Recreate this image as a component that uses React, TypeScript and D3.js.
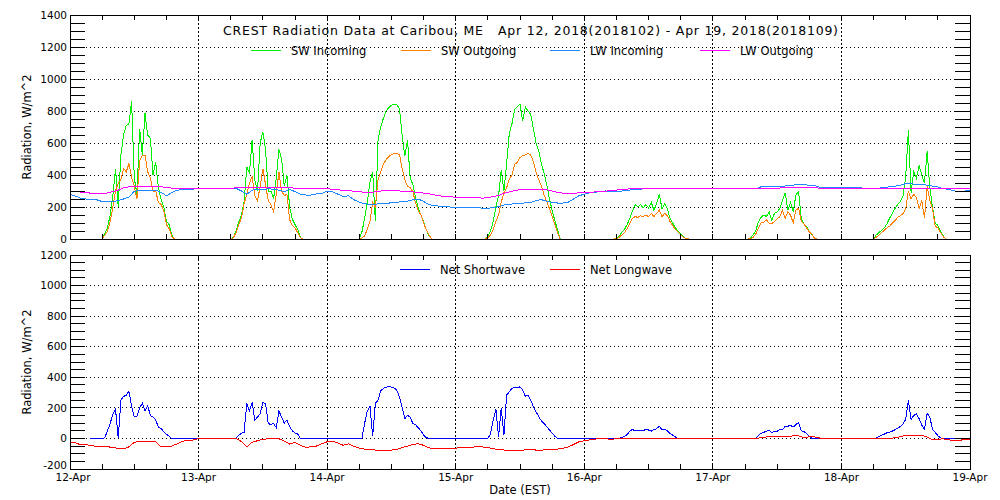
import * as d3 from "d3";

const TITLE =
  "CREST Radiation Data at Caribou, ME   Apr 12, 2018(2018102) - Apr 19, 2018(2018109)";
const DAY_LABELS = ["12-Apr", "13-Apr", "14-Apr", "15-Apr", "16-Apr", "17-Apr", "18-Apr", "19-Apr"];
const TOP_Y_TICKS = [0, 200, 400, 600, 800, 1000, 1200, 1400];
const BOTTOM_Y_TICKS = [-200, 0, 200, 400, 600, 800, 1000, 1200];
const MINOR_Y_STEP = 50;
const MINOR_X_STEP = 6; // hours

// shortwave: one row per day, half-hourly from 05:30 to 19:30 (zero at night)
const DAY_START_HOUR = 5.5;
const DAY_STEP_HOUR = 0.5;

const swIncoming = [
  [0, 0, 35, 70, 150, 270, 440, 200, 525, 650, 710, 720, 860, 380, 280, 690, 525, 785, 650, 630, 400, 480, 320, 250, 200, 110, 90, 25, 0],
  [0, 0, 10, 50, 105, 150, 233, 450, 410, 620, 370, 300, 600, 670, 560, 300, 300, 250, 380, 560, 500, 330, 400, 200, 125, 90, 60, 10, 0],
  [0, 0, 45, 130, 230, 358, 420, 110, 620, 700, 754, 800, 820, 836, 840, 838, 815, 650, 520, 620, 380, 340, 260, 195, 150, 108, 60, 20, 0],
  [0, 20, 50, 108, 200, 270, 430, 300, 470, 660, 720, 810, 825, 842, 740, 825, 800, 780, 690, 600, 550, 470, 410, 337, 250, 180, 115, 60, 0],
  [0, 3, 20, 40, 60, 90, 130, 175, 215, 200, 215, 195, 215, 195, 230, 180, 220, 280, 190, 220, 190, 130, 100, 70, 50, 30, 15, 2, 0],
  [0, 0, 0, 4, 25, 50, 108, 135, 150, 140, 170, 118, 160, 170, 190, 240, 290, 180, 230, 170, 275, 296, 130, 95, 78, 45, 25, 5, 0],
  [0, 0, 25, 40, 55, 70, 95, 130, 160, 190, 215, 235, 270, 390, 680, 290, 420, 380, 460, 400, 350, 550, 320, 200, 100, 85, 50, 20, 0],
];

const swOutgoing = [
  [0, 0, 25, 50, 108, 200, 300, 350, 370, 440, 420, 470, 385, 330, 250, 490, 520, 525, 420, 380, 300, 300, 230, 215, 180, 90, 65, 15, 0],
  [0, 0, 8, 40, 90, 130, 220, 280, 350, 390, 270, 240, 330, 440, 340, 240, 215, 170, 280, 420, 300, 270, 280, 120, 85, 70, 40, 8, 0],
  [0, 0, 5, 20, 60, 110, 230, 200, 370, 420, 470, 495, 515, 528, 535, 535, 528, 440, 370, 330, 320, 296, 225, 180, 150, 100, 60, 25, 0],
  [0, 8, 25, 60, 110, 150, 230, 290, 320, 375, 400, 465, 480, 510, 520, 525, 535, 525, 483, 420, 370, 330, 275, 233, 190, 140, 90, 40, 0],
  [0, 2, 10, 25, 40, 65, 100, 130, 140, 135, 145, 140, 150, 140, 160, 140, 160, 180, 140, 160, 145, 110, 85, 60, 45, 25, 10, 2, 0],
  [0, 0, 0, 2, 10, 30, 70, 100, 105, 120, 100, 95, 110, 125, 140, 180, 130, 170, 150, 100, 180, 192, 110, 95, 70, 45, 30, 4, 0],
  [0, 0, 10, 25, 40, 55, 70, 80, 100, 115, 135, 145, 160, 190, 300, 250, 280, 260, 190, 240, 130, 330, 240, 190, 80, 70, 40, 15, 0],
];

const NET_SW_FIRST_HOUR = 3.7;
const netShortwave = [
  [0, 0, 5, 50, 98, 160, 190, 0, 250, 275, 283, 310, 210, 140, 145, 200, 230, 180, 215, 150, 140, 120, 75, 65, 45, 28, 15, 0, 0],
  [0, 0, 0, 0, 22, 33, 40, 229, 180, 235, 120, 140, 163, 233, 229, 98, 90, 98, 70, 180, 140, 100, 120, 78, 50, 35, 30, 0, 0],
  [0, 0, 0, 100, 180, 211, 15, 229, 250, 312, 327, 336, 338, 336, 330, 316, 270, 200, 130, 150, 140, 98, 90, 70, 50, 22, 5, 0, 0],
  [0, 0, 30, 120, 190, 10, 200, 20, 283, 305, 327, 333, 330, 338, 316, 275, 285, 250, 207, 174, 142, 115, 98, 76, 55, 35, 15, 0, 0],
  [0, 0, 0, 5, 15, 25, 48, 60, 48, 55, 50, 50, 60, 55, 48, 57, 64, 80, 58, 60, 50, 33, 22, 10, 0, 0, 0, 0, 0],
  [0, 0, 0, 0, 0, 0, 20, 33, 40, 48, 52, 38, 48, 45, 62, 60, 78, 80, 85, 75, 90, 105, 50, 44, 33, 15, 0, 0, 0],
  [0, 0, 2, 12, 22, 28, 37, 41, 48, 57, 68, 78, 94, 125, 250, 125, 150, 160, 130, 87, 60, 165, 140, 60, 40, 18, 3, 0, 0],
];

// longwave: hourly, Apr 12 00:00 .. Apr 19 00:00
const lwIncoming = [
  279, 268, 255, 250, 250, 245, 234, 233, 234, 240, 250, 262, 298, 306, 306, 300, 305, 292, 270, 290, 305, 308, 310, 312,
  317, 317, 317, 317, 317, 317, 317, 317, 300, 280, 305, 310, 306, 315, 310, 305, 296, 310, 296, 280, 275, 275, 282, 285,
  300, 296, 280, 265, 270, 245, 230, 220, 217, 218, 220, 223, 226, 230, 233, 237, 245, 250, 235, 215, 208, 205, 203, 200,
  197, 196, 196, 196, 195, 193, 192, 196, 202, 212, 217, 220, 222, 226, 229, 240, 246, 235, 228, 225, 225, 230, 250, 270,
  280, 288, 292, 298, 300, 298, 296, 300, 305, 307, 310, 313, 314, 314, 314, 314, 314, 314, 314, 314, 314, 314, 314, 314,
  314, 314, 314, 314, 314, 314, 314, 314, 314, 326, 326, 327, 327, 327, 335, 337, 341, 340, 336, 335, 323, 323, 323, 323,
  323, 323, 323, 323, 318, 317, 317, 318, 323, 326, 330, 336, 346, 345, 342, 340, 337, 330, 326, 315, 310, 302, 294, 300,
  306,
];

const lwOutgoing = [
  300, 297, 293, 290, 286, 283, 282, 288, 296, 305, 321, 326, 329, 329, 329, 329, 328, 326, 323, 318, 317, 317, 317, 317,
  318, 318, 318, 318, 318, 318, 318, 319, 320, 322, 323, 323, 323, 323, 323, 322, 321, 320, 318, 318, 318, 318, 317, 316,
  315, 310, 307, 305, 302, 299, 296, 292, 290, 295, 300, 302, 304, 302, 299, 296, 294, 292, 287, 282, 276, 270, 266, 263,
  262, 260, 258, 258, 257, 256, 257, 266, 272, 285, 295, 303, 308, 310, 310, 310, 309, 308, 300, 292, 287, 285, 286, 288,
  291, 292, 294, 296, 299, 303, 306, 309, 312, 314, 314, 314, 314, 314, 314, 314, 314, 314, 314, 314, 314, 314, 314, 314,
  314, 314, 314, 314, 314, 314, 314, 314, 314, 314, 314, 314, 314, 324, 324, 324, 324, 324, 324, 324, 315, 315, 315, 315,
  316, 316, 316, 316, 316, 316, 316, 316, 316, 316, 316, 316, 316, 316, 316, 316, 316, 316, 316, 316, 316, 316, 316, 316,
  316,
];

const netLongwave = [
  -22, -28, -42, -40, -48, -52, -53, -55, -58, -66, -68, -55, -25, -20, -22, -22, -22, -55, -55, -50, -35, -18, -14, -10,
  -2, 0, 0, 0, 0, 0, 0, 0, -20, -55, -25, -15, -5, -3, 0, -2, -18, -37, -25, -45, -58, -55, -50, -35,
  -22, -18, -30, -45, -35, -52, -63, -70, -74, -76, -76, -76, -76, -72, -60, -50, -38, -35, -45, -62, -65, -65, -65, -64,
  -63, -62, -60, -57, -55, -56, -58, -68, -72, -76, -79, -80, -78, -75, -74, -76, -76, -75, -73, -70, -65, -55, -40, -22,
  -15, -10, -5, 0, 0, -8, 0, 0, 0, 0, 0, 0, 0, 0, 0, 0, 0, 0, 0, 0, 0, 0, 0, 0,
  0, 0, 0, 0, 0, 0, 0, 0, 0, 5, 10, 10, 10, 10, 12, 17, 17, 5, 11, 10, 2, 0, 0, 0,
  0, 0, 0, 0, 0, 0, 0, 0, 0, 0, 5, 11, 20, 18, 18, 20, 10, -10, -5, -3, -8, -15, -14, -5,
  -4,
];

type Pt = [number, number];

function dailySeries(rows: number[][], firstHour = 0): Pt[] {
  const pts: Pt[] = [[firstHour, 0]];
  rows.forEach((row, d) =>
    row.forEach((v, i) => pts.push([d * 24 + DAY_START_HOUR + i * DAY_STEP_HOUR, v]))
  );
  pts.push([168, 0]);
  return pts;
}

function hourlySeries(vals: number[]): Pt[] {
  return vals.map((v, i) => [i, v] as Pt);
}

const W = 1000;
const H = 500;
const FONT = "'DejaVu Sans', sans-serif";

const x = d3.scaleLinear().domain([0, 168]).range([70, 970]);
const yTop = d3.scaleLinear().domain([0, 1400]).range([239, 15]);
const yBot = d3.scaleLinear().domain([-200, 1200]).range([469, 255]);

interface Series {
  name: string;
  color: string;
  pts: Pt[];
  legendX: number;
}

const topSeries: Series[] = [
  { name: "SW Incoming", color: "#00ee00", pts: dailySeries(swIncoming), legendX: 251 },
  { name: "SW Outgoing", color: "#ff8000", pts: dailySeries(swOutgoing), legendX: 401 },
  { name: "LW Incoming", color: "#1e88ff", pts: hourlySeries(lwIncoming), legendX: 550 },
  { name: "LW Outgoing", color: "#ff00ff", pts: hourlySeries(lwOutgoing), legendX: 700 },
];

const bottomSeries: Series[] = [
  { name: "Net Shortwave", color: "#0000ff", pts: dailySeries(netShortwave, NET_SW_FIRST_HOUR), legendX: 400 },
  { name: "Net Longwave", color: "#ff0000", pts: hourlySeries(netLongwave), legendX: 550 },
];

function Panel({
  y,
  yTicks,
  series,
  legendY,
  xLabels,
}: {
  y: d3.ScaleLinear<number, number>;
  yTicks: number[];
  series: Series[];
  legendY: number;
  xLabels: boolean;
}) {
  const [x0, x1] = x.range();
  const [yb, yt] = y.range();
  const [d0, d1] = y.domain();
  const line = d3
    .line<Pt>()
    .x((d) => x(d[0]))
    .y((d) => y(d[1]));
  const minorY = d3.range(d0, d1 + 1, MINOR_Y_STEP);
  const minorX = d3.range(0, 169, MINOR_X_STEP);
  const days = d3.range(0, 169, 24);

  return (
    <g>
      {yTicks
        .filter((t) => t !== d0 && t !== d1)
        .map((t) => (
          <line key={"gy" + t} x1={x0} x2={x1} y1={y(t)} y2={y(t)} stroke="#000" strokeDasharray="1,3" />
        ))}
      {days.slice(1, -1).map((h) => (
        <line key={"gx" + h} x1={x(h)} x2={x(h)} y1={yt} y2={yb} stroke="#000" strokeDasharray="2,2" />
      ))}
      {series.map((s) => (
        <path key={s.name} d={line(s.pts) as string} fill="none" stroke={s.color} strokeWidth={1} />
      ))}
      <rect x={x0} y={yt} width={x1 - x0} height={yb - yt} fill="none" stroke="#000" />
      {minorY.map((t) => (
        <g key={"ty" + t}>
          <line x1={x0} x2={x0 + 15} y1={y(t)} y2={y(t)} stroke="#000" />
          <line x1={x1 - 15} x2={x1} y1={y(t)} y2={y(t)} stroke="#000" />
        </g>
      ))}
      {minorX.map((h) => (
        <g key={"tx" + h}>
          <line x1={x(h)} x2={x(h)} y1={yb} y2={yb - 5} stroke="#000" />
          <line x1={x(h)} x2={x(h)} y1={yt} y2={yt + 5} stroke="#000" />
        </g>
      ))}
      {yTicks.map((t) => (
        <text
          key={"ly" + t}
          x={x0 - 3}
          y={xLabels && t === d0 ? y(t) - 4 : y(t)}
          dy="0.35em"
          textAnchor="end"
          fontSize={10.5}
          fontFamily={FONT}
        >
          {t}
        </text>
      ))}
      <text
        transform={`translate(27,${(yt + yb) / 2}) rotate(-90)`}
        textAnchor="middle"
        dy="0.35em"
        fontSize={11.5}
        fontFamily={FONT}
      >
        Radiation, W/m^2
      </text>
      {series.map((s) => (
        <g key={"lg" + s.name}>
          <line x1={s.legendX} x2={s.legendX + 30} y1={legendY} y2={legendY} stroke={s.color} />
          <text x={s.legendX + 40} y={legendY + 5} fontSize={11.5} fontFamily={FONT}>
            {s.name}
          </text>
        </g>
      ))}
      {xLabels &&
        days.map((h, i) => (
          <text key={"lx" + h} x={x(h) + (i === 0 ? 3 : 0)} y={481} textAnchor="middle" fontSize={10.5} fontFamily={FONT}>
            {DAY_LABELS[i]}
          </text>
        ))}
    </g>
  );
}

export default function App() {
  return (
    <div style={{ position: "absolute", left: 0, top: 0 }}>
      <svg width={W} height={H} shapeRendering="crispEdges" style={{ display: "block" }}>
        <rect width={W} height={H} fill="#fff" />
        <text
          x={223}
          y={35}
          fontSize={12.5}
          fontFamily={FONT}
          textLength={615}
          lengthAdjust="spacing"
          style={{ whiteSpace: "pre" }}
        >
          {TITLE}
        </text>
        <Panel y={yTop} yTicks={TOP_Y_TICKS} series={topSeries} legendY={50} xLabels={false} />
        <Panel y={yBot} yTicks={BOTTOM_Y_TICKS} series={bottomSeries} legendY={269} xLabels={true} />
        <text x={520} y={494} textAnchor="middle" fontSize={11.5} fontFamily={FONT}>
          Date (EST)
        </text>
      </svg>
    </div>
  );
}
